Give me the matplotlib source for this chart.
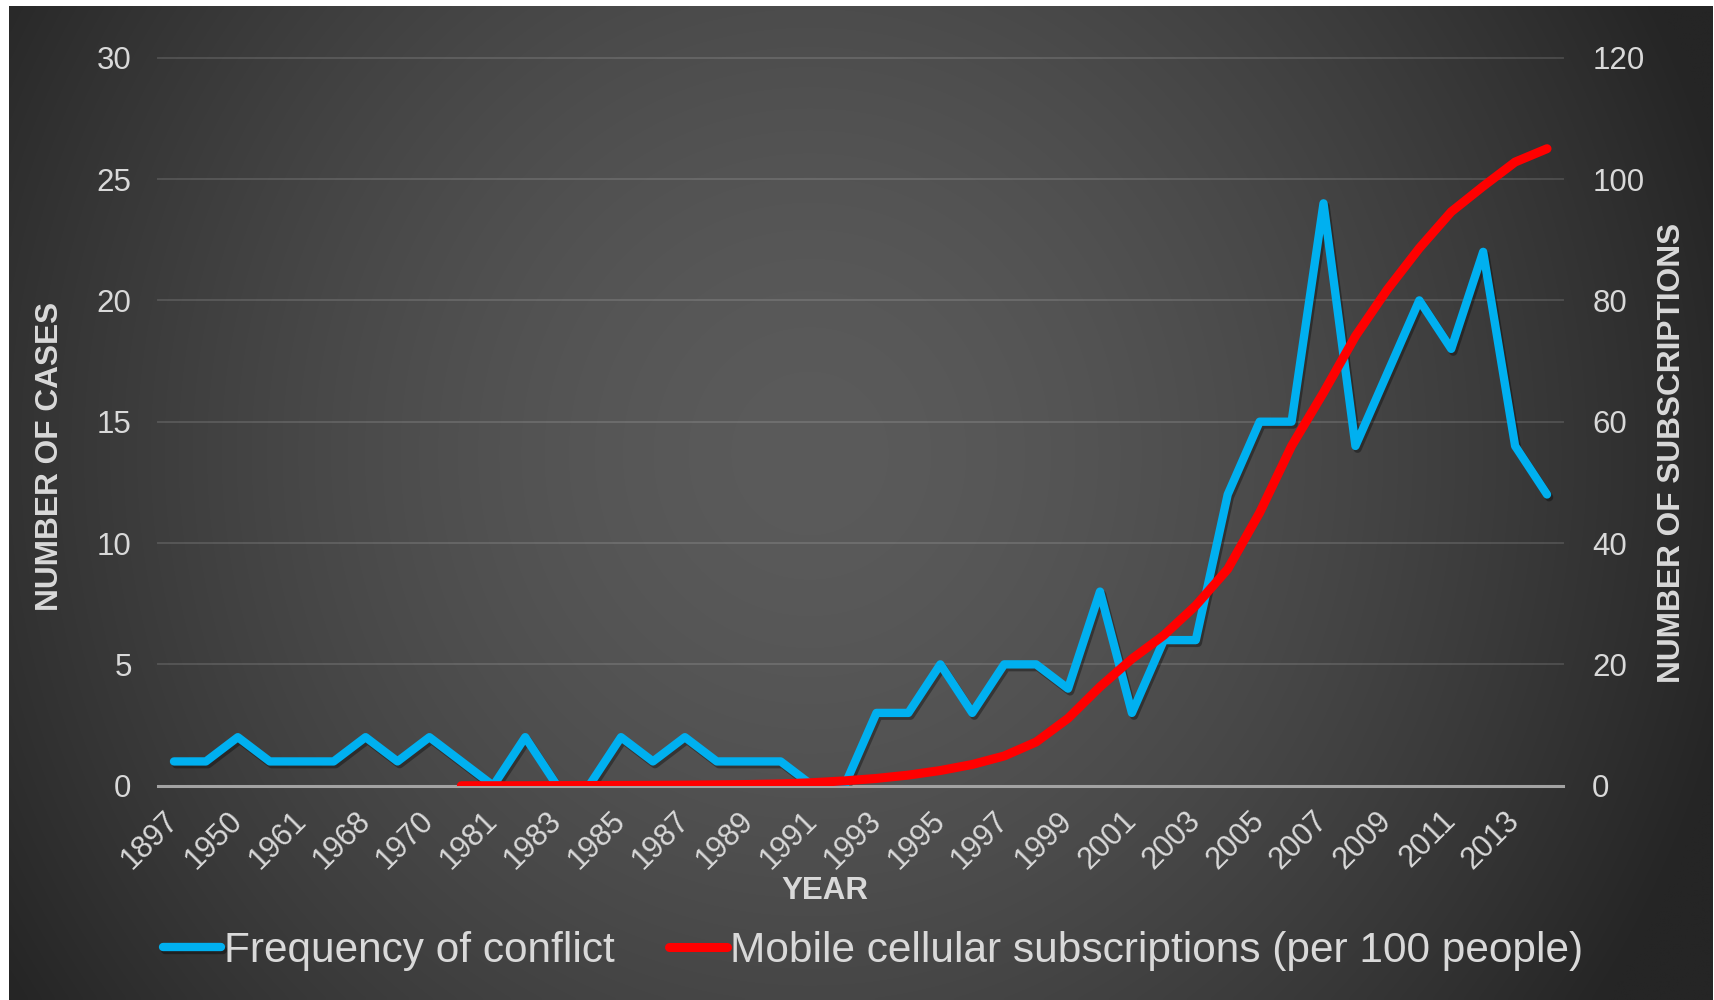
import numpy as np
import matplotlib
matplotlib.use('Agg')
import matplotlib.pyplot as plt
import matplotlib.patheffects as pe

plt.rcParams['font.family'] = ['Liberation Sans', 'DejaVu Sans']

# ---- data ----
years = ['1897', '1945', '1950', '1955', '1961', '1965', '1968', '1969', '1970', '1975',
         '1981', '1982', '1983', '1984', '1985', '1986', '1987', '1988', '1989', '1990',
         '1991', '1992', '1993', '1994', '1995', '1996', '1997', '1998', '1999', '2000',
         '2001', '2002', '2003', '2004', '2005', '2006', '2007', '2008', '2009', '2010',
         '2011', '2012', '2013', '2014']
conflicts = [1, 1, 2, 1, 1, 1, 2, 1, 2, 1,
             0, 2, 0, 0, 2, 1, 2, 1, 1, 1,
             0, 0, 3, 3, 5, 3, 5, 5, 4, 8,
             3, 6, 6, 12, 15, 15, 24, 14, 17, 20,
             18, 22, 14, 12]
subscriptions = [None] * 9 + [0, 0, 0, 0.02, 0.03, 0.05, 0.07, 0.1, 0.15, 0.2, 0.3,
                              0.5, 0.8, 1.2, 1.75, 2.5, 3.5, 4.9, 7.2, 11.1, 16.3,
                              20.9, 24.8, 29.7, 35.7, 45.0, 56.0, 64.8, 74.1, 81.8, 88.6,
                              94.6, 98.8, 102.8, 105.0]
left_ticks = [0, 5, 10, 15, 20, 25, 30]
right_ticks = [0, 20, 40, 60, 80, 100, 120]
label_conf = 'Frequency of conflict'
label_subs = 'Mobile cellular subscriptions (per 100 people)'

W, H = 1715, 1000
fig = plt.figure(figsize=(W / 100, H / 100), dpi=100, facecolor='white')

# ---- background radial gradient ----
bx0, bx1, by0, by1 = 9, 1713, 6, 1000
bg = fig.add_axes([bx0 / W, 1 - by1 / H, (bx1 - bx0) / W, (by1 - by0) / H], zorder=-5)
gw, gh = 400, 240
X, Y = np.meshgrid(np.linspace(0, 1, gw), np.linspace(0, 1, gh))
r = np.sqrt(((X - 0.47) / 0.56) ** 2 + ((Y - 0.45) / 1.0) ** 2)
r = np.clip(r, 0, 1) ** 1.6
v = (0x5b - (0x5b - 0x25) * r) / 255.0
img = np.dstack([v, v, v])
bg.imshow(img, aspect='auto', interpolation='bilinear', extent=[0, 1, 1, 0])
bg.set_axis_off()

txt = '#d9d9d9'

# ---- main axes ----
l, rgt, b, t = 158 / W, 1563 / W, 1 - 785.7 / H, 1 - 57.7 / H
ax = fig.add_axes([l, b, rgt - l, t - b])
ax.set_facecolor('none')
x = np.arange(len(years))
subs = np.array([np.nan if s is None else s for s in subscriptions], dtype=float)

ax.set_xlim(-0.5, len(years) - 0.5)
ax.set_ylim(0, 30)
ax.set_yticks(left_ticks)
ax.grid(axis='y', color='white', alpha=0.13, lw=1.4)
ax.grid(axis='x', visible=False)
ax.set_axisbelow(True)
for gl in ax.get_ygridlines():
    gl.set_clip_on(False)
for s in ['top', 'left', 'right']:
    ax.spines[s].set_visible(False)
ax.spines['bottom'].set_color('#a3a3a3')
ax.spines['bottom'].set_linewidth(2.2)

blue, = ax.plot(x, conflicts, color='#00B0F0', lw=6, solid_capstyle='round',
                solid_joinstyle='round', zorder=3, label=label_conf,
                path_effects=[pe.SimpleLineShadow(offset=(1.5, -2), alpha=0.35), pe.Normal()])

ax.set_xticks(x[::2])
ax.set_xticklabels(years[::2], rotation=45, ha='right', va='center', rotation_mode='anchor')
ax.tick_params(axis='x', length=0, pad=22, labelsize=22, labelcolor=txt)
ax.tick_params(axis='y', length=0, pad=19, labelsize=22.5, labelcolor=txt)

ax2 = ax.twinx()
ax2.set_facecolor('none')
ax2.set_ylim(0, 120)
ax2.set_yticks(right_ticks)
for s in ax2.spines.values():
    s.set_visible(False)
ax2.tick_params(axis='y', length=0, pad=21, labelsize=22.5, labelcolor=txt)
red, = ax2.plot(x, subs, color='#FF0000', lw=6.5, solid_capstyle='round',
                solid_joinstyle='round', zorder=3, label=label_subs)

# ---- titles ----
fig.text(50 / W, 1 - 456 / H, 'NUMBER OF CASES', rotation=90, ha='center', va='center',
         fontsize=22.8, fontweight='bold', color=txt)
fig.text(1672 / W, 1 - 453 / H, 'NUMBER OF SUBSCRIPTIONS', rotation=90, ha='center',
         va='center', fontsize=22.8, fontweight='bold', color=txt)
fig.text(825 / W, 1 - 891 / H, 'YEAR', ha='center', va='center', fontsize=22.5,
         fontweight='bold', color=txt)

# ---- legend ----
leg = fig.legend(handles=[blue, red], loc='center', bbox_to_anchor=(873 / W, 1 - 951 / H),
                 ncol=2, frameon=False, fontsize=30.5, handlelength=1.37,
                 handletextpad=0.08, columnspacing=1.27, labelcolor=txt)

fig.savefig('out.png', dpi=100, facecolor='white')
